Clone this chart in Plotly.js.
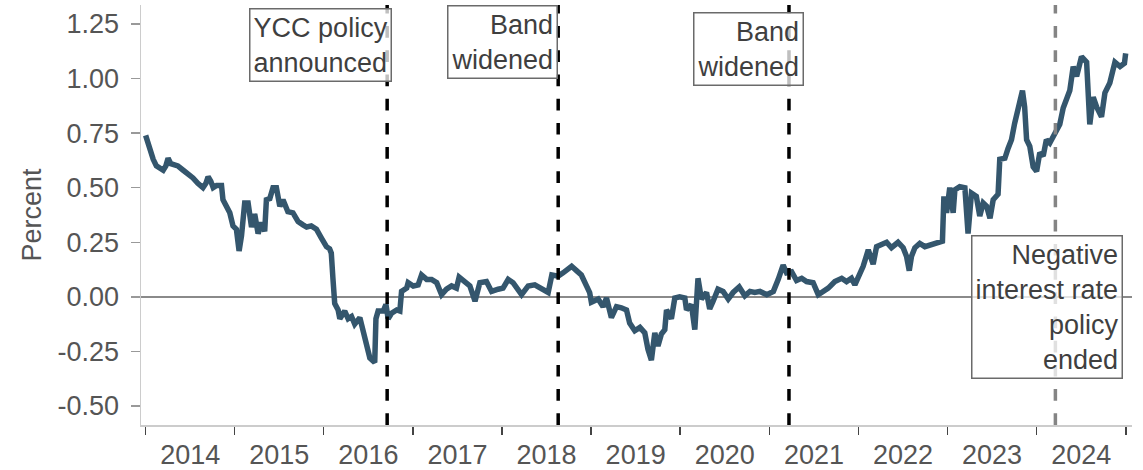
<!DOCTYPE html>
<html>
<head>
<meta charset="utf-8">
<script src="https://cdn.plot.ly/plotly-3.0.1.min.js"></script>
<style>
  html, body { margin: 0; padding: 0; background: #fff; }
  #chart { width: 1143px; height: 470px; }
</style>
</head>
<body>
<div id="chart"></div>
<script>
// Decimal-year dates of the observations
const yearFrac = [
  2014.000, 2014.015, 2014.048, 2014.085, 2014.123, 2014.160, 2014.198, 2014.228, 2014.254, 2014.284,
  2014.310, 2014.363, 2014.422, 2014.475, 2014.534, 2014.587, 2014.646, 2014.677, 2014.703, 2014.733,
  2014.759, 2014.800, 2014.853, 2014.871, 2014.901, 2014.946, 2014.983, 2015.021, 2015.050, 2015.077,
  2015.114, 2015.151, 2015.190, 2015.227, 2015.264, 2015.302, 2015.339, 2015.358, 2015.395, 2015.432,
  2015.470, 2015.507, 2015.544, 2015.600, 2015.657, 2015.713, 2015.769, 2015.810, 2015.863, 2015.919,
  2015.975, 2016.031, 2016.068, 2016.087, 2016.105, 2016.124, 2016.162, 2016.181, 2016.237, 2016.274,
  2016.312, 2016.349, 2016.405, 2016.442, 2016.480, 2016.517, 2016.573, 2016.585, 2016.611, 2016.667,
  2016.697, 2016.723, 2016.761, 2016.817, 2016.854, 2016.873, 2016.929, 2016.947, 2017.003, 2017.059,
  2017.098, 2017.154, 2017.210, 2017.266, 2017.322, 2017.378, 2017.434, 2017.490, 2017.520, 2017.584,
  2017.640, 2017.696, 2017.752, 2017.827, 2017.883, 2017.957, 2018.013, 2018.070, 2018.126, 2018.220,
  2018.294, 2018.369, 2018.444, 2018.518, 2018.560, 2018.613, 2018.631, 2018.687, 2018.781, 2018.837,
  2018.893, 2018.949, 2018.986, 2019.005, 2019.080, 2019.136, 2019.174, 2019.230, 2019.286, 2019.342,
  2019.398, 2019.435, 2019.491, 2019.548, 2019.604, 2019.641, 2019.679, 2019.716, 2019.753, 2019.791,
  2019.828, 2019.847, 2019.903, 2019.940, 2019.996, 2020.053, 2020.072, 2020.128, 2020.165, 2020.202,
  2020.240, 2020.296, 2020.333, 2020.370, 2020.426, 2020.482, 2020.539, 2020.595, 2020.662, 2020.726,
  2020.782, 2020.838, 2020.894, 2020.970, 2021.044, 2021.100, 2021.156, 2021.194, 2021.250, 2021.306,
  2021.362, 2021.418, 2021.492, 2021.549, 2021.605, 2021.661, 2021.736, 2021.811, 2021.867, 2021.923,
  2021.960, 2022.017, 2022.054, 2022.110, 2022.166, 2022.204, 2022.260, 2022.316, 2022.372, 2022.446,
  2022.503, 2022.541, 2022.570, 2022.597, 2022.634, 2022.690, 2022.746, 2022.821, 2022.895, 2022.945,
  2022.959, 2022.990, 2023.027, 2023.064, 2023.083, 2023.139, 2023.195, 2023.232, 2023.270, 2023.326,
  2023.363, 2023.400, 2023.439, 2023.479, 2023.513, 2023.569, 2023.588, 2023.644, 2023.681, 2023.719,
  2023.756, 2023.793, 2023.843, 2023.868, 2023.888, 2023.925, 2023.962, 2024.000, 2024.037, 2024.074,
  2024.112, 2024.149, 2024.205, 2024.261, 2024.298, 2024.336, 2024.373, 2024.410, 2024.449, 2024.505,
  2024.561, 2024.598, 2024.635, 2024.673, 2024.729, 2024.766, 2024.822, 2024.878, 2024.935, 2024.985,
  2024.998
];

// Yield, percent
const yieldPct = [
  0.74, 0.72, 0.67, 0.63, 0.60, 0.59, 0.58, 0.60, 0.635, 0.61,
  0.605, 0.60, 0.58, 0.565, 0.545, 0.52, 0.50, 0.52, 0.55, 0.53,
  0.50, 0.51, 0.51, 0.445, 0.42, 0.385, 0.325, 0.31, 0.21, 0.28,
  0.43, 0.43, 0.32, 0.38, 0.29, 0.34, 0.30, 0.445, 0.45, 0.50,
  0.50, 0.415, 0.445, 0.39, 0.385, 0.345, 0.33, 0.32, 0.325, 0.31,
  0.27, 0.23, 0.22, 0.20, 0.08, -0.03, -0.06, -0.10, -0.065, -0.10,
  -0.09, -0.125, -0.095, -0.15, -0.21, -0.28, -0.30, -0.10, -0.065, -0.065,
  -0.035, -0.10, -0.075, -0.06, -0.065, 0.025, 0.04, 0.065, 0.05, 0.055,
  0.10, 0.08, 0.08, 0.065, 0.01, 0.035, 0.05, 0.04, 0.09, 0.07,
  0.05, -0.02, 0.065, 0.07, 0.025, 0.035, 0.04, 0.08, 0.065, 0.01,
  0.05, 0.055, 0.04, 0.02, 0.10, 0.10, 0.095, 0.11, 0.14, 0.12,
  0.10, 0.05, 0.02, -0.025, -0.01, -0.045, -0.005, -0.095, -0.045, -0.05,
  -0.06, -0.12, -0.155, -0.14, -0.165, -0.24, -0.29, -0.165, -0.225, -0.17,
  -0.15, -0.06, -0.10, -0.005, 0.00, -0.005, -0.06, -0.035, -0.15, 0.085,
  -0.01, 0.02, -0.055, -0.02, 0.035, 0.025, -0.01, 0.02, 0.045, 0.005,
  0.025, 0.02, 0.025, 0.01, 0.025, 0.08, 0.145, 0.11, 0.115, 0.075,
  0.085, 0.07, 0.065, 0.01, 0.025, 0.04, 0.07, 0.085, 0.07, 0.085,
  0.055, 0.10, 0.14, 0.215, 0.15, 0.23, 0.24, 0.25, 0.225, 0.25,
  0.225, 0.185, 0.12, 0.185, 0.225, 0.245, 0.23, 0.24, 0.245, 0.255,
  0.46, 0.385, 0.50, 0.385, 0.49, 0.505, 0.50, 0.29, 0.475, 0.46,
  0.37, 0.43, 0.415, 0.36, 0.445, 0.47, 0.63, 0.635, 0.68, 0.72,
  0.795, 0.855, 0.945, 0.87, 0.72, 0.69, 0.595, 0.575, 0.66, 0.645,
  0.72, 0.705, 0.75, 0.79, 0.865, 0.90, 0.945, 1.055, 1.01, 1.10,
  1.075, 0.79, 0.915, 0.87, 0.825, 0.935, 0.98, 1.075, 1.055, 1.07,
  1.115
];

// Policy events
const eventDates  = ['2016-09-17', '2018-08-19', '2021-03-22', '2024-03-18'];
const eventLabels = ['YCC policy<br>announced', 'Band<br>widened', 'Band<br>widened', 'Negative<br>interest rate<br>policy<br>ended'];
const eventColors = ['#000000', '#000000', '#000000', '#848484'];
// label box anchors (right edge date, top value)
const labelX = ['2016-10-06', '2018-08-19', '2021-05-22', '2024-12-20'];
const labelY = [1.322, 1.337, 1.306, 0.282];

const yTickVals = [-0.5, -0.25, 0, 0.25, 0.5, 0.75, 1.0, 1.25];
const yTickText = ['-0.50', '-0.25', '0.00', '0.25', '0.50', '0.75', '1.00', '1.25'];

function toDate(y) {
  const yr = Math.floor(y);
  const s = Date.UTC(yr, 0, 1), e = Date.UTC(yr + 1, 0, 1);
  return new Date(s + (y - yr) * (e - s)).toISOString().slice(0, 10);
}
const dates = yearFrac.map(toDate);

const FONT = 'Arial, "Liberation Sans", Helvetica, sans-serif';
const TXT = '#555555';
const FS = 27;

const trace = {
  x: dates, y: yieldPct, type: 'scatter', mode: 'lines',
  line: { color: '#34566d', width: 5.5 },
  hoverinfo: 'skip'
};

const shapes = eventDates.map((d, i) => ({
  type: 'line', xref: 'x', yref: 'paper', x0: d, x1: d, y0: 0, y1: 1,
  line: { color: eventColors[i], width: 3.5, dash: '11.7px,12.5px' },
  layer: 'above'
}));

const annotations = eventLabels.map((t, i) => ({
  x: labelX[i], y: labelY[i], xref: 'x', yref: 'y',
  xanchor: 'right', yanchor: 'top',
  text: t, align: 'right', showarrow: false,
  font: { family: FONT, size: FS, color: '#3f3f3f' },
  bgcolor: 'rgba(255,255,255,0.75)', bordercolor: '#6a6a6a', borderwidth: 1.5, borderpad: 3
}));

const layout = {
  width: 1143, height: 470,
  margin: { l: 141, r: 11, t: 5, b: 45 },
  paper_bgcolor: '#ffffff', plot_bgcolor: '#ffffff',
  showlegend: false,
  font: { family: FONT, size: FS, color: TXT },
  xaxis: {
    type: 'date', range: ['2013-12-13', '2025-01-26'],
    tick0: '2014-01-01', dtick: 'M12', tickformat: '%Y', ticklabelmode: 'period',
    ticks: 'outside', ticklen: 8, tickwidth: 1.5, tickcolor: '#444444',
    ticklabelstandoff: -3,
    showline: true, linecolor: '#cccccc', linewidth: 1.5,
    showgrid: false, zeroline: false,
    tickfont: { family: FONT, size: FS, color: TXT }
  },
  yaxis: {
    range: [-0.587, 1.337],
    tickmode: 'array', tickvals: yTickVals, ticktext: yTickText,
    ticks: 'outside', ticklen: 9, tickwidth: 1.5, tickcolor: '#999999',
    ticklabelstandoff: 6,
    showline: true, linecolor: '#cccccc', linewidth: 1.5,
    showgrid: false, zeroline: true, zerolinecolor: '#8a8a8a', zerolinewidth: 1.5,
    tickfont: { family: FONT, size: FS, color: TXT },
    title: { text: 'Percent', font: { family: FONT, size: FS, color: TXT }, standoff: 8 }
  },
  shapes: shapes,
  annotations: annotations
};

Plotly.newPlot('chart', [trace], layout, { displayModeBar: false, staticPlot: true });
</script>
</body>
</html>
